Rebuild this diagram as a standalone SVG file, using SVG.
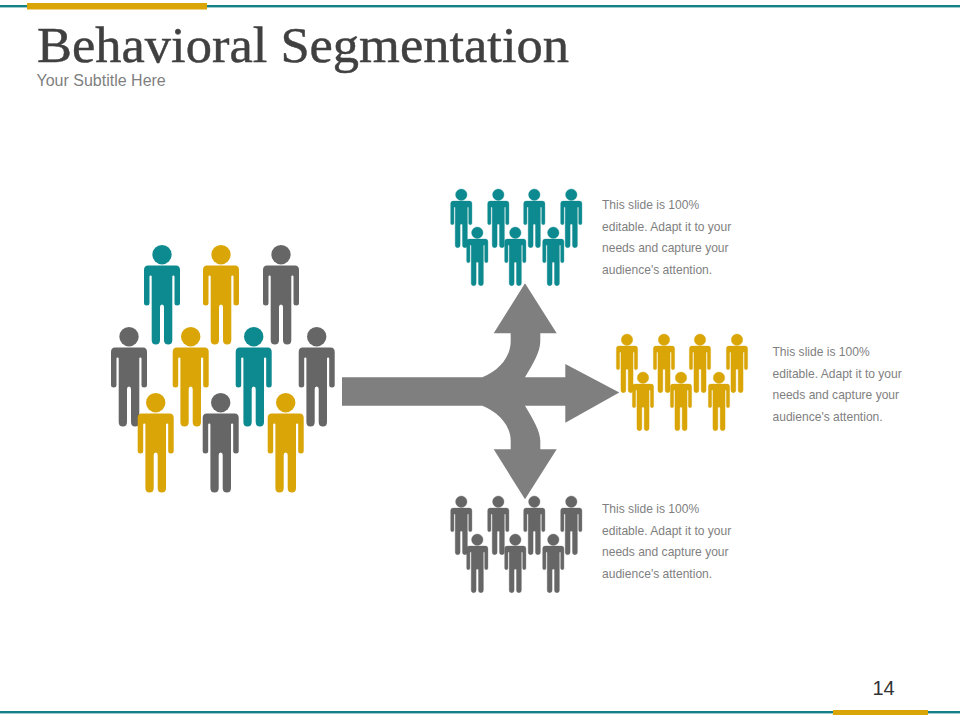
<svg xmlns="http://www.w3.org/2000/svg" width="960" height="720" viewBox="0 0 960 720">
<style>
.teal{fill:#0d8a8f;stroke:#0d8a8f;stroke-width:0}.gold{fill:#d9a507;stroke:#d9a507;stroke-width:0}.gray{fill:#666666;stroke:#666666;stroke-width:0}
.note{font-family:"Liberation Sans",Arial,sans-serif;font-size:12.05px;fill:#7f7f7f}
.arrow{fill:#7f7f7f}
</style>
<defs>
<g id="p"><circle cx="0" cy="9.7" r="9.7"/><path d="M-14,20.5H14Q18,20.5 18,25V58Q18,60.5 15.2,60.5Q12.5,60.5 12.5,58V31.5Q12.5,30.4 11.4,30.4Q10.3,30.4 10.3,31.5V95Q10.3,99.5 6.2,99.5Q2,99.5 2,95V62Q2,59.5 0,59.5Q-2,59.5 -2,62V95Q-2,99.5 -6.2,99.5Q-10.3,99.5 -10.3,95V31.5Q-10.3,30.4 -11.4,30.4Q-12.5,30.4 -12.5,31.5V58Q-12.5,60.5 -15.2,60.5Q-18,60.5 -18,58V25Q-18,20.5 -14,20.5Z"/></g>
<g id="s"><use href="#p" stroke-width=".6" transform="scale(.59)"/></g>
<g id="crowd"><use href="#s" x="461.3" y="189"/><use href="#s" x="498.3" y="189"/><use href="#s" x="534.3" y="189"/><use href="#s" x="571.3" y="189"/><use href="#s" x="477.3" y="227"/><use href="#s" x="515.3" y="227"/><use href="#s" x="553.3" y="227"/></g>
</defs>
<rect width="960" height="720" fill="#fff"/>
<g id="header">
<rect x="0" y="5" width="960" height="2.4" fill="#138186"/>
<rect x="27" y="3" width="180" height="6.5" fill="#d9a507"/>
<text x="37" y="62" font-family="'Liberation Serif','DejaVu Serif',serif" font-size="51" fill="#404040" stroke="#404040" stroke-width=".45" textLength="532" lengthAdjust="spacingAndGlyphs">Behavioral Segmentation</text>
<text x="36.5" y="86" font-family="'Liberation Sans',Arial,sans-serif" font-size="16" fill="#7f7f7f">Your Subtitle Here</text>
</g>
<g id="connectors">
<path class="arrow" d="M342,377.3H482.3C498,371 510.7,358 510.7,341V333.3H493.7L525,283.3L556.7,333.3H540.3V341C540.3,352 533,364 525,377.3H565.3V364L619.3,392.5L565.3,422.7V405.7H525C533,419 540.3,431 540.3,441V449.3H556.7L525,499.3L493.7,449.3H510.7V441C510.7,425 498,412 482.3,405.7H342Z"/>
</g>
<g id="crowd-main">
<use href="#p" class="teal" x="162" y="245"/><use href="#p" class="gold" x="221" y="245"/><use href="#p" class="gray" x="281" y="245"/>
<use href="#p" class="gray" x="129" y="327"/><use href="#p" class="gold" x="190.7" y="327"/><use href="#p" class="teal" x="253.7" y="327"/><use href="#p" class="gray" x="316.7" y="327"/>
<use href="#p" class="gold" x="155.7" y="393"/><use href="#p" class="gray" x="220.7" y="393"/><use href="#p" class="gold" x="285.7" y="393"/>
</g>
<g id="segment-top"><use href="#crowd" class="teal"/>
<text class="note" x="602" y="209">This slide is 100%</text><text class="note" x="602" y="231">editable. Adapt it to your</text><text class="note" x="602" y="252">needs and capture your</text><text class="note" x="602" y="274">audience's attention.</text></g>
<g id="segment-middle"><use href="#crowd" class="gold" x="165.7" y="145"/>
<text class="note" x="772.5" y="356">This slide is 100%</text><text class="note" x="772.5" y="378">editable. Adapt it to your</text><text class="note" x="772.5" y="399">needs and capture your</text><text class="note" x="772.5" y="421">audience's attention.</text></g>
<g id="segment-bottom"><use href="#crowd" class="gray" y="307"/>
<text class="note" x="602" y="513">This slide is 100%</text><text class="note" x="602" y="535">editable. Adapt it to your</text><text class="note" x="602" y="556">needs and capture your</text><text class="note" x="602" y="578">audience's attention.</text></g>
<g id="footer">
<rect x="0" y="711" width="960" height="2.4" fill="#138186"/>
<rect x="833" y="710" width="95" height="5" fill="#d9a507"/>
<text x="883.5" y="695" text-anchor="middle" font-family="'Liberation Sans',Arial,sans-serif" font-size="20" fill="#333">14</text>
</g>
</svg>
